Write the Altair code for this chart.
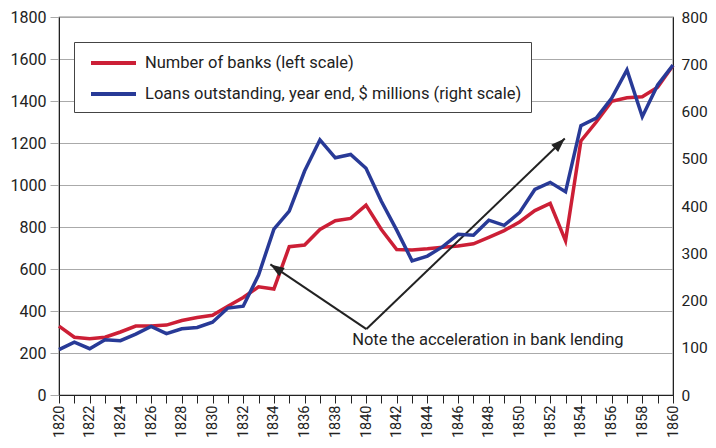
import altair as alt
import pandas as pd

years = list(range(1820, 1861))
banks = [328, 275, 268, 275, 300, 328, 328, 333, 355, 369, 380, 423, 464, 515, 505,
         706, 714, 788, 830, 841, 904, 788, 693, 690, 696, 704, 710, 720, 751, 783,
         824, 878, 912, 734, 1210, 1300, 1398, 1415, 1420, 1466, 1569]
loans = [96, 112, 98, 117, 115, 129, 145, 130, 140, 143, 154, 184, 188, 254, 351,
         389, 474, 540, 502, 509, 480, 410, 349, 284, 294, 314, 340, 338, 370, 359,
         386, 435, 450, 430, 570, 586, 628, 688, 589, 656, 698]

label_banks = "Number of banks (left scale)"
label_loans = "Loans outstanding, year end, $ millions (right scale)"
red = "#CC1F36"
blue = "#283A97"

# annotation arrows (left-scale coordinates)
arrow_from_x = [1840.03, 1840.03]
arrow_from_y = [314, 314]
arrow_to_x = [1833.77, 1852.95]
arrow_to_y = [622, 1221]
arrow_angle = [304, 46]
note_text = ["Note the acceleration in bank lending"]
note_x = [1839.1]
note_y = [264]

FONT = "Roboto"

df_banks = pd.DataFrame({"year": years, "value": banks, "series": label_banks})
df_loans = pd.DataFrame({"year": years, "value": loans, "series": label_loans})
df_arrows = pd.DataFrame({"x0": arrow_from_x, "y0": arrow_from_y,
                          "x1": arrow_to_x, "y1": arrow_to_y, "ang": arrow_angle})
df_note = pd.DataFrame({"text": note_text, "x": note_x, "y": note_y})

xscale = alt.Scale(domain=[1820, 1860], nice=False)
yleft = alt.Scale(domain=[0, 1800], nice=False)
yright = alt.Scale(domain=[0, 800], nice=False)
color = alt.Color(
    "series:N",
    scale=alt.Scale(domain=[label_banks, label_loans], range=[red, blue]),
    legend=alt.Legend(
        title=None, orient="none", legendX=15, legendY=25,
        symbolType="M-0.4,0H4.1", symbolSize=400, symbolStrokeWidth=4,
        labelFont=FONT, labelFontSize=16.5, labelColor="#222", labelLimit=600,
        strokeColor="#444", fillColor="white", padding=9, rowPadding=10,
        symbolOffset=0, labelOffset=38,
    ),
)

x_axis = alt.Axis(
    values=years, labelExpr="datum.value % 2 == 0 ? datum.value : ''",
    labelAngle=270, labelFont=FONT, labelFontSize=14.5, labelColor="#222",
    tickColor="#222", tickSize=8, labelPadding=2, domainColor="#222",
    grid=False, title=None, labelFlush=False, labelOverlap=False,
)
yl_axis = alt.Axis(
    values=list(range(0, 1801, 200)), format="d", labelFont=FONT, labelFontSize=16,
    labelColor="#222", tickColor="#aaa", tickSize=9, labelPadding=4,
    domainColor="#222", gridColor="#aaa", gridWidth=1.2, title=None)

red_line = alt.Chart(df_banks).mark_line(strokeWidth=3.5, strokeJoin="miter").encode(
    x=alt.X("year:Q", scale=xscale, axis=x_axis),
    y=alt.Y("value:Q", scale=yleft, axis=yl_axis),
    color=color,
)

arrow_lines = alt.Chart(df_arrows).mark_rule(color="#222", strokeWidth=2).encode(
    x=alt.X("x0:Q", scale=xscale, axis=x_axis),
    y=alt.Y("y0:Q", scale=yleft, axis=yl_axis),
    x2="x1:Q", y2="y1:Q",
)
arrow_heads = alt.Chart(df_arrows).mark_point(
    shape="M0,0L-0.5,1.4L0.5,1.4Z", filled=True, color="#222", opacity=1, size=400,
).encode(
    x=alt.X("x1:Q", scale=xscale, axis=x_axis),
    y=alt.Y("y1:Q", scale=yleft, axis=yl_axis),
    angle=alt.Angle("ang:Q", scale=None),
)
note = alt.Chart(df_note).mark_text(
    align="left", baseline="middle", font=FONT, fontSize=16.5, color="#222"
).encode(
    x=alt.X("x:Q", scale=xscale, axis=x_axis),
    y=alt.Y("y:Q", scale=yleft, axis=yl_axis),
    text="text:N",
)

left_layer = alt.layer(red_line, arrow_lines, arrow_heads, note)

blue_line = alt.Chart(df_loans).mark_line(strokeWidth=3.5, strokeJoin="miter").encode(
    x=alt.X("year:Q", scale=xscale, axis=x_axis),
    y=alt.Y("value:Q", scale=yright, axis=alt.Axis(
        orient="right", values=list(range(0, 801, 100)), labelFont=FONT,
        labelFontSize=15.5, labelColor="#222", tickSize=0, labelPadding=8,
        domainColor="#222", grid=False, title=None)),
    color=color,
)

chart = alt.layer(left_layer, blue_line).resolve_scale(y="independent").properties(
    width=614, height=378,
    autosize=alt.AutoSizeParams(type="none"),
    padding={"left": 51, "top": 9, "right": 35, "bottom": 45},
).configure_view(stroke="#222", strokeWidth=1.2)

chart.save("out.html", embed_options={"renderer": "svg", "actions": False})
